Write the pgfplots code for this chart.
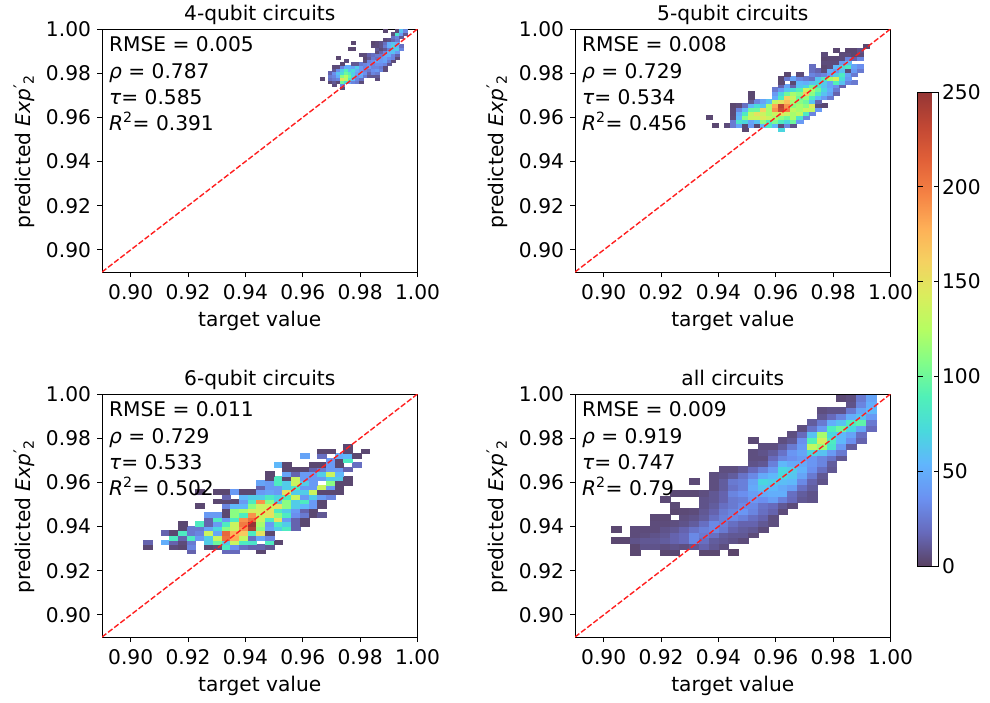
\documentclass[border=0pt]{standalone}
\usepackage{fontspec}
\setmainfont{DejaVu Sans}
\usepackage{pgfplots}
\pgfplotsset{compat=1.18}
\newcommand\fs{\fontsize{20.2}{24}\selectfont}
\pgfdeclareplotmark{cA}{\pgfpathrectangle{\pgfpoint{-2pt}{-1.5pt}}{\pgfpoint{4pt}{3pt}}\pgfusepathqfillstroke}
\pgfdeclareplotmark{cB}{\pgfpathrectangle{\pgfpoint{-3.03pt}{-1.97pt}}{\pgfpoint{6.07pt}{3.95pt}}\pgfusepathqfillstroke}
\pgfdeclareplotmark{cC}{\pgfpathrectangle{\pgfpoint{-4.36pt}{-2.28pt}}{\pgfpoint{8.72pt}{4.56pt}}\pgfusepathqfillstroke}
\pgfdeclareplotmark{cD}{\pgfpathrectangle{\pgfpoint{-4.92pt}{-2.97pt}}{\pgfpoint{9.83pt}{5.93pt}}\pgfusepathqfillstroke}
\pgfplotsset{
  colormap={turboa}{rgb255=(89,65,98) rgb255=(103,106,188) rgb255=(107,145,241) rgb255=(97,181,253) rgb255=(73,217,221) rgb255=(80,240,184) rgb255=(129,253,137) rgb255=(182,253,98) rgb255=(218,237,93) rgb255=(245,209,97) rgb255=(254,175,87) rgb255=(245,130,68) rgb255=(225,96,56) rgb255=(193,71,52) rgb255=(149,54,53)},
  colormap name=turboa,
  frame/.style={
    scale only axis, width=315.5pt, height=243pt, anchor=south west,
    xmin=0.89, xmax=1, ymin=0.89, ymax=1,
  },
  panel/.style={frame,
    xtick={0.90,0.92,0.94,0.96,0.98,1.00}, ytick={0.90,0.92,0.94,0.96,0.98,1.00},
    scaled ticks=false, tick align=outside, xtick pos=bottom, ytick pos=left,
    major tick length=5pt, minor tick num=0,
    axis line style={line width=1pt}, tick style={line width=1pt,black},
    /pgf/number format/fixed, /pgf/number format/fixed zerofill, /pgf/number format/precision=2,
    /pgf/number format/assume math mode=true,
    xticklabel style={font=\fs,yshift=-4pt}, yticklabel style={font=\fs,xshift=-2.5pt},
    label style={font=\fs},
    title style={font=\fs,at={(0.5,1)},anchor=base,yshift=3pt},
    xlabel={target value}, ylabel={predicted \textit{Exp}\raisebox{0.22em}{\fontsize{17}{17}\selectfont ′}\textsubscript{2}},
    xlabel style={yshift=-4.5pt}, ylabel style={yshift=4.5pt,xshift=-1.5pt},
    point meta min=0, point meta max=250,
  },
  hist/.style={scatter, only marks, mark=#1, scatter src=explicit, line width=0.2pt,
    scatter/use mapped color={draw=mapped color,fill=mapped color}},
  diag/.style={line width=1.4pt, color=red!88!white, dash pattern=on 5.5pt off 2.2pt},
}
\newcommand\stats[6]{%
\begin{axis}[frame, at={(#1pt,#2pt)}, hide axis]
  \addplot[diag] coordinates {(0.89,0.89) (1,1)};
  \node[anchor=base west,inner sep=0pt,font=\fs] at (rel axis cs:0.022,0.907) {RMSE = #3};
  \node[anchor=base west,inner sep=0pt,font=\fs] at (rel axis cs:0.022,0.797) {\textit{ρ} = #4};
  \node[anchor=base west,inner sep=0pt,font=\fs] at (rel axis cs:0.022,0.690) {\textit{τ}= #5};
  \node[anchor=base west,inner sep=0pt,font=\fs] at (rel axis cs:0.022,0.583) {\textit{R}\textsuperscript{2}= #6};
\end{axis}}
\begin{document}
\begin{tikzpicture}[x=1pt,y=1pt]
\path[use as bounding box] (0,0) rectangle (990,-702);
% ---- 4 qubit
\begin{axis}[panel, at={(102pt,-272pt)}, title={4-qubit circuits}]
\addplot[hist=cA] table[row sep=\\, x expr=0.9659+(\thisrow{i}+0.5)*0.00139, y expr=0.9727+(\thisrow{j}+0.5)*0.00136, meta=c]{
i j c\\
5 0 5\\ 3 1 5\\ 5 1 30\\
2 2 4\\ 3 2 10\\ 4 2 4\\ 5 2 100\\ 6 2 75\\ 7 2 45\\ 8 2 30\\ 9 2 25\\ 10 2 5\\
0 3 3\\ 2 3 20\\ 3 3 25\\ 4 3 30\\ 5 3 150\\ 6 3 130\\ 7 3 85\\ 8 3 55\\ 9 3 30\\ 10 3 20\\ 14 3 5\\
2 4 25\\ 3 4 30\\ 4 4 50\\ 5 4 110\\ 6 4 125\\ 7 4 100\\ 8 4 70\\ 9 4 35\\ 10 4 45\\ 11 4 25\\ 12 4 10\\ 13 4 10\\ 14 4 10\\
2 5 15\\ 3 5 35\\ 4 5 60\\ 5 5 75\\ 6 5 100\\ 7 5 90\\ 8 5 65\\ 9 5 45\\ 10 5 50\\ 11 5 35\\ 12 5 15\\ 13 5 30\\ 14 5 25\\
3 6 10\\ 4 6 35\\ 5 6 65\\ 6 6 90\\ 7 6 60\\ 8 6 75\\ 9 6 50\\ 10 6 40\\ 11 6 30\\ 12 6 25\\ 13 6 35\\ 14 6 40\\ 15 6 30\\ 16 6 5\\
3 7 5\\ 4 7 5\\ 5 7 30\\ 6 7 50\\ 7 7 50\\ 8 7 45\\ 9 7 65\\ 10 7 40\\ 11 7 30\\ 12 7 40\\ 13 7 30\\ 14 7 30\\ 15 7 25\\ 16 7 5\\
5 8 3\\ 8 8 10\\ 9 8 10\\ 10 8 25\\ 11 8 30\\ 12 8 35\\ 13 8 30\\ 14 8 35\\ 15 8 35\\ 16 8 30\\ 17 8 10\\
6 9 5\\ 11 9 5\\ 12 9 30\\ 13 9 35\\ 14 9 45\\ 15 9 40\\ 16 9 45\\ 17 9 25\\ 18 9 5\\
4 10 3\\ 11 10 3\\ 12 10 10\\ 13 10 25\\ 14 10 20\\ 15 10 40\\ 16 10 45\\ 17 10 35\\ 18 10 30\\ 19 10 5\\
10 11 5\\ 11 11 5\\ 12 11 15\\ 13 11 20\\ 14 11 25\\ 15 11 25\\ 16 11 50\\ 17 11 50\\ 18 11 30\\ 19 11 15\\
14 12 5\\ 15 12 15\\ 16 12 30\\ 17 12 55\\ 18 12 60\\ 19 12 40\\
7 13 3\\ 8 13 3\\ 14 13 10\\ 15 13 5\\ 16 13 10\\ 17 13 25\\ 18 13 60\\ 19 13 65\\ 20 13 30\\
13 14 5\\ 14 14 5\\ 15 14 8\\ 16 14 25\\ 17 14 50\\ 18 14 70\\ 19 14 55\\ 20 14 20\\
8 15 3\\ 13 15 3\\ 14 15 5\\ 15 15 8\\ 16 15 20\\ 17 15 50\\ 18 15 60\\ 19 15 50\\
16 16 5\\ 17 16 8\\ 18 16 15\\ 19 16 25\\
18 17 20\\ 19 17 30\\ 20 17 10\\
18 18 6\\ 19 18 80\\ 20 18 40\\ 21 18 10\\
16 19 3\\ 19 19 5\\ 20 19 60\\ 21 19 30\\
};
\end{axis}
\stats{102}{-272}{0.005}{0.787}{0.585}{0.391}
% ---- 5 qubit
\begin{axis}[panel, at={(575pt,-272pt)}, title={5-qubit circuits},
  colorbar, colorbar style={at={(1.0857,-1.21)}, anchor=south west, width=21pt, height=474pt,
    ytick={0,50,100,150,200,250}, yticklabel style={font=\fs,xshift=0pt}, major tick length=5pt,
    /pgf/number format/assume math mode=true, /pgf/number format/fixed, /pgf/number format/precision=0,
    /pgf/number format/fixed zerofill=false,
    axis line style={line width=0.9pt}, tick style={line width=1pt,black}}]
\addplot[hist=cB] table[row sep=\\, x expr=0.9356+(\thisrow{i}+0.5)*0.00211, y expr=0.9538+(\thisrow{j}+0.5)*0.00179, meta=c]{
i j c\\
6 0 3\\ 12 0 70\\
1 1 3\\ 3 1 5\\ 4 1 25\\ 5 1 45\\ 6 1 3\\ 7 1 40\\ 8 1 3\\ 9 1 55\\ 10 1 85\\ 11 1 55\\ 12 1 5\\ 13 1 30\\ 14 1 8\\
4 2 25\\ 5 2 80\\ 6 2 70\\ 7 2 45\\ 8 2 60\\ 9 2 110\\ 10 2 85\\ 11 2 105\\ 12 2 85\\ 13 2 70\\ 14 2 100\\ 15 2 40\\
0 3 3\\ 4 3 5\\ 5 3 55\\ 6 3 110\\ 7 3 135\\ 8 3 135\\ 9 3 145\\ 10 3 135\\ 11 3 120\\ 12 3 110\\ 13 3 100\\ 14 3 120\\ 15 3 80\\ 16 3 30\\
4 4 4\\ 5 4 50\\ 6 4 85\\ 7 4 130\\ 8 4 150\\ 9 4 135\\ 10 4 120\\ 11 4 135\\ 12 4 150\\ 13 4 135\\ 14 4 120\\ 15 4 130\\ 16 4 85\\ 17 4 30\\
4 5 4\\ 5 5 30\\ 6 5 55\\ 7 5 100\\ 8 5 100\\ 9 5 160\\ 10 5 120\\ 11 5 190\\ 12 5 230\\ 13 5 200\\ 14 5 130\\ 15 5 120\\ 16 5 135\\ 17 5 130\\ 18 5 40\\
4 6 3\\ 5 6 5\\ 6 6 20\\ 7 6 55\\ 8 6 75\\ 9 6 60\\ 10 6 120\\ 11 6 180\\ 12 6 235\\ 13 6 190\\ 14 6 110\\ 15 6 120\\ 16 6 110\\ 17 6 145\\ 18 6 5\\ 19 6 3\\
7 7 10\\ 8 7 30\\ 9 7 45\\ 10 7 60\\ 11 7 130\\ 12 7 150\\ 13 7 170\\ 14 7 120\\ 15 7 110\\ 16 7 100\\ 17 7 60\\ 18 7 15\\
7 8 3\\ 11 8 50\\ 12 8 85\\ 13 8 160\\ 14 8 135\\ 15 8 100\\ 16 8 115\\ 17 8 85\\ 18 8 55\\ 19 8 40\\ 20 8 25\\
7 9 3\\ 11 9 40\\ 12 9 70\\ 13 9 100\\ 14 9 120\\ 15 9 110\\ 16 9 165\\ 17 9 110\\ 18 9 85\\ 19 9 60\\ 20 9 45\\ 21 9 15\\
11 10 25\\ 12 10 40\\ 13 10 60\\ 14 10 75\\ 15 10 90\\ 16 10 135\\ 17 10 120\\ 18 10 100\\ 19 10 70\\ 20 10 50\\ 21 10 25\\
12 11 15\\ 13 11 45\\ 14 11 15\\ 15 11 60\\ 16 11 70\\ 17 11 100\\ 18 11 85\\ 19 11 60\\ 20 11 45\\ 21 11 35\\ 22 11 15\\
12 12 3\\ 14 12 3\\ 15 12 55\\ 16 12 50\\ 17 12 60\\ 18 12 70\\ 19 12 65\\ 20 12 45\\ 21 12 90\\ 22 12 60\\ 23 12 30\\ 24 12 25\\
12 13 3\\ 13 13 25\\ 14 13 45\\ 15 13 30\\ 16 13 25\\ 17 13 20\\ 18 13 60\\ 19 13 85\\ 20 13 120\\ 21 13 140\\ 22 13 75\\ 23 13 40\\
13 14 3\\ 15 14 5\\ 17 14 30\\ 18 14 25\\ 19 14 30\\ 20 14 45\\ 21 14 65\\ 22 14 85\\ 23 14 45\\ 24 14 25\\
17 15 20\\ 18 15 15\\ 19 15 5\\ 20 15 50\\ 21 15 40\\ 22 15 60\\ 23 15 5\\ 24 15 40\\ 25 15 25\\
17 16 20\\ 19 16 3\\ 20 16 5\\ 21 16 55\\ 22 16 70\\ 23 16 85\\ 24 16 45\\ 25 16 35\\
19 17 5\\ 20 17 5\\ 21 17 5\\ 22 17 40\\ 23 17 55\\
19 18 3\\ 20 18 4\\ 21 18 4\\ 22 18 5\\ 23 18 30\\ 24 18 15\\ 25 18 30\\
19 19 5\\ 22 19 5\\ 23 19 5\\ 24 19 3\\ 25 19 5\\
21 20 3\\ 23 20 3\\ 24 20 3\\ 25 20 8\\
26 21 3\\
};
\end{axis}
\stats{575}{-272}{0.008}{0.729}{0.534}{0.456}
% ---- 6 qubit
\begin{axis}[panel, at={(102pt,-637pt)}, title={6-qubit circuits}]
\addplot[hist=cC] table[row sep=\\, x expr=0.9044+(\thisrow{i}+0.5)*0.003034, y expr=0.9279+(\thisrow{j}+0.5)*0.00206, meta=c]{
i j c\\
5 0 15\\ 9 0 18\\ 10 0 18\\ 13 0 3\\
0 1 3\\ 3 1 5\\ 4 1 3\\ 5 1 30\\ 7 1 3\\ 8 1 5\\ 9 1 85\\ 10 1 35\\ 11 1 20\\ 12 1 15\\ 13 1 15\\ 14 1 10\\
0 2 15\\ 2 2 50\\ 3 2 15\\ 4 2 5\\ 5 2 25\\ 7 2 65\\ 8 2 100\\ 9 2 65\\ 10 2 135\\ 11 2 85\\ 12 2 80\\ 14 2 85\\ 15 2 3\\
3 3 85\\ 4 3 15\\ 5 3 85\\ 6 3 40\\ 7 3 65\\ 8 3 135\\ 9 3 205\\ 10 3 180\\ 11 3 130\\ 12 3 20\\ 13 3 45\\ 14 3 30\\
2 4 15\\ 3 4 3\\ 4 4 85\\ 5 4 25\\ 6 4 30\\ 7 4 135\\ 8 4 45\\ 9 4 210\\ 10 4 175\\ 11 4 165\\ 12 4 85\\ 13 4 150\\ 14 4 3\\
4 5 3\\ 5 5 25\\ 6 5 25\\ 7 5 45\\ 8 5 70\\ 9 5 110\\ 10 5 135\\ 11 5 190\\ 12 5 240\\ 13 5 110\\ 14 5 45\\ 15 5 65\\ 16 5 85\\ 17 5 15\\
4 6 3\\ 6 6 85\\ 7 6 15\\ 8 6 40\\ 9 6 85\\ 10 6 135\\ 11 6 200\\ 12 6 250\\ 13 6 120\\ 14 6 40\\ 15 6 85\\ 16 6 65\\ 17 6 15\\ 18 6 3\\
7 7 15\\ 8 7 85\\ 9 7 40\\ 10 7 85\\ 11 7 190\\ 12 7 205\\ 13 7 135\\ 14 7 85\\ 15 7 150\\ 16 7 40\\ 17 7 15\\ 18 7 3\\
7 8 40\\ 8 8 40\\ 9 8 3\\ 10 8 110\\ 11 8 85\\ 12 8 190\\ 13 8 135\\ 14 8 150\\ 15 8 110\\ 16 8 85\\ 17 8 35\\ 18 8 25\\ 19 8 3\\ 20 8 10\\
9 9 3\\ 10 9 110\\ 11 9 120\\ 12 9 140\\ 13 9 140\\ 14 9 150\\ 15 9 85\\ 16 9 65\\ 17 9 40\\ 18 9 15\\ 19 9 3\\
6 10 3\\ 9 10 30\\ 10 10 55\\ 11 10 55\\ 12 10 110\\ 13 10 135\\ 14 10 135\\ 15 10 150\\ 16 10 110\\ 17 10 65\\ 18 10 55\\ 19 10 40\\ 20 10 3\\
8 11 3\\ 9 11 3\\ 10 11 3\\ 11 11 40\\ 12 11 85\\ 13 11 190\\ 14 11 110\\ 15 11 65\\ 16 11 110\\ 17 11 65\\ 18 11 85\\ 19 11 40\\ 20 11 3\\
9 12 15\\ 11 12 55\\ 12 12 65\\ 13 12 65\\ 14 12 85\\ 15 12 70\\ 16 12 85\\ 17 12 135\\ 18 12 40\\ 19 12 65\\ 20 12 40\\ 21 12 30\\
6 13 3\\ 8 13 3\\ 9 13 3\\ 10 13 40\\ 11 13 3\\ 12 13 3\\ 13 13 40\\ 14 13 45\\ 15 13 40\\ 16 13 150\\ 17 13 65\\ 18 13 65\\ 19 13 135\\ 20 13 3\\ 21 13 3\\ 22 13 3\\
13 14 15\\ 14 14 40\\ 15 14 40\\ 16 14 65\\ 17 14 85\\ 18 14 40\\ 19 14 40\\ 20 14 135\\ 21 14 40\\ 22 14 3\\
13 15 45\\ 14 15 40\\ 15 15 85\\ 16 15 65\\ 17 15 135\\ 18 15 65\\ 19 15 40\\ 21 15 110\\ 22 15 3\\ 23 15 3\\
14 16 3\\ 15 16 85\\ 16 16 3\\ 17 16 135\\ 18 16 40\\ 19 16 40\\ 20 16 40\\ 21 16 65\\ 22 16 65\\ 23 16 3\\
14 17 3\\ 16 17 45\\ 17 17 15\\ 18 17 40\\ 19 17 40\\ 20 17 65\\ 21 17 135\\ 22 17 55\\
16 18 3\\ 17 18 3\\ 18 18 3\\ 19 18 15\\ 20 18 25\\ 21 18 40\\ 22 18 40\\ 23 18 15\\
15 19 55\\ 16 19 3\\ 19 19 3\\ 20 19 3\\ 21 19 40\\ 22 19 3\\ 24 19 20\\
21 20 40\\ 22 20 3\\ 23 20 85\\
18 21 45\\ 20 21 20\\ 22 21 50\\ 23 21 55\\ 24 21 3\\
20 22 3\\ 21 22 3\\ 23 22 3\\ 25 22 3\\
23 23 3\\
};
\end{axis}
\stats{102}{-637}{0.011}{0.729}{0.533}{0.502}
% ---- all
\begin{axis}[panel, at={(575pt,-637pt)}, title={all circuits}]
\addplot[hist=cD] table[row sep=\\, x expr=0.9025+(\thisrow{i}+0.5)*0.00342, y expr=0.9270+(\thisrow{j}+0.5)*0.00268, meta=c]{
i j c\\
2 0 3\\ 5 0 3\\ 6 0 3\\ 9 0 3\\ 10 0 3\\ 12 0 2\\
2 1 3\\ 3 1 8\\ 4 1 8\\ 5 1 6\\ 6 1 8\\ 7 1 6\\ 8 1 10\\ 9 1 15\\ 10 1 10\\ 11 1 6\\
0 2 3\\ 1 2 3\\ 2 2 8\\ 3 2 10\\ 4 2 10\\ 5 2 12\\ 6 2 15\\ 7 2 18\\ 8 2 32\\ 9 2 20\\ 10 2 12\\ 11 2 10\\ 12 2 8\\ 13 2 5\\
2 3 5\\ 3 3 6\\ 4 3 8\\ 5 3 10\\ 6 3 15\\ 7 3 18\\ 8 3 32\\ 9 3 25\\ 10 3 20\\ 11 3 12\\ 12 3 10\\ 13 3 10\\ 14 3 5\\
0 4 3\\ 2 4 5\\ 3 4 5\\ 4 4 5\\ 5 4 8\\ 6 4 10\\ 7 4 15\\ 8 4 22\\ 9 4 28\\ 10 4 32\\ 11 4 25\\ 12 4 15\\ 13 4 12\\ 14 4 10\\ 15 4 5\\
4 5 5\\ 5 5 5\\ 6 5 6\\ 7 5 8\\ 8 5 12\\ 9 5 20\\ 10 5 32\\ 11 5 28\\ 12 5 20\\ 13 5 15\\ 14 5 15\\ 15 5 10\\ 16 5 6\\
4 6 4\\ 5 6 4\\ 7 6 6\\ 8 6 8\\ 9 6 12\\ 10 6 20\\ 11 6 28\\ 12 6 32\\ 13 6 28\\ 14 6 20\\ 15 6 15\\ 16 6 6\\
6 7 3\\ 7 7 4\\ 8 7 5\\ 9 7 10\\ 10 7 15\\ 11 7 25\\ 12 7 30\\ 13 7 38\\ 14 7 30\\ 15 7 20\\ 16 7 15\\ 17 7 5\\
6 8 4\\ 9 8 8\\ 10 8 12\\ 11 8 20\\ 12 8 25\\ 13 8 32\\ 14 8 32\\ 15 8 22\\ 16 8 18\\ 17 8 10\\ 18 8 5\\
5 9 4\\ 9 9 8\\ 10 9 10\\ 11 9 15\\ 12 9 25\\ 13 9 28\\ 14 9 38\\ 15 9 35\\ 16 9 42\\ 17 9 28\\ 18 9 18\\ 19 9 10\\ 20 9 8\\
6 10 4\\ 7 10 4\\ 8 10 4\\ 9 10 6\\ 10 10 10\\ 11 10 15\\ 12 10 30\\ 13 10 35\\ 14 10 42\\ 15 10 48\\ 16 10 50\\ 17 10 50\\ 18 10 20\\ 19 10 12\\ 20 10 8\\
10 11 6\\ 11 11 12\\ 12 11 22\\ 13 11 28\\ 14 11 48\\ 15 11 62\\ 16 11 55\\ 17 11 48\\ 18 11 42\\ 19 11 20\\ 20 11 12\\
8 12 4\\ 10 12 6\\ 11 12 12\\ 12 12 25\\ 13 12 28\\ 14 12 45\\ 15 12 70\\ 16 12 65\\ 17 12 58\\ 18 12 55\\ 19 12 32\\ 20 12 15\\ 21 12 8\\
10 13 6\\ 11 13 8\\ 12 13 12\\ 13 13 22\\ 14 13 32\\ 15 13 48\\ 16 13 55\\ 17 13 72\\ 18 13 62\\ 19 13 45\\ 20 13 25\\ 21 13 10\\
11 14 6\\ 12 14 6\\ 13 14 10\\ 14 14 18\\ 15 14 28\\ 16 14 40\\ 17 14 70\\ 18 14 65\\ 19 14 52\\ 20 14 35\\ 21 14 20\\ 22 14 10\\
14 15 8\\ 15 15 10\\ 16 15 28\\ 17 15 55\\ 18 15 48\\ 19 15 48\\ 20 15 38\\ 21 15 30\\ 22 15 12\\
14 16 6\\ 15 16 6\\ 16 16 18\\ 17 16 30\\ 18 16 35\\ 19 16 40\\ 20 16 38\\ 21 16 30\\ 22 16 22\\ 23 16 10\\
14 17 6\\ 15 17 8\\ 16 17 12\\ 17 17 22\\ 18 17 38\\ 19 17 45\\ 20 17 70\\ 21 17 60\\ 22 17 40\\ 23 17 25\\
15 18 6\\ 16 18 6\\ 17 18 12\\ 18 18 25\\ 19 18 40\\ 20 18 130\\ 21 18 115\\ 22 18 80\\ 23 18 40\\ 24 18 12\\
14 19 4\\ 17 19 6\\ 18 19 10\\ 19 19 35\\ 20 19 90\\ 21 19 140\\ 22 19 85\\ 23 19 55\\ 24 19 35\\ 25 19 15\\
18 20 6\\ 19 20 18\\ 20 20 60\\ 21 20 120\\ 22 20 70\\ 23 20 55\\ 24 20 45\\ 25 20 20\\
19 21 6\\ 20 21 22\\ 21 21 40\\ 22 21 85\\ 23 21 100\\ 24 21 70\\ 25 21 45\\ 26 21 18\\
20 22 12\\ 21 22 25\\ 22 22 50\\ 23 22 60\\ 24 22 85\\ 25 22 95\\ 26 22 25\\
21 23 10\\ 22 23 18\\ 23 23 30\\ 24 23 50\\ 25 23 60\\ 26 23 40\\
21 24 6\\ 22 24 8\\ 23 24 8\\ 24 24 25\\ 25 24 45\\ 26 24 55\\
24 25 8\\ 25 25 30\\ 26 25 50\\
23 26 4\\ 24 26 6\\ 25 26 25\\ 26 26 45\\
};
\end{axis}
\stats{575}{-637}{0.009}{0.919}{0.747}{0.79}
\end{tikzpicture}
\end{document}
